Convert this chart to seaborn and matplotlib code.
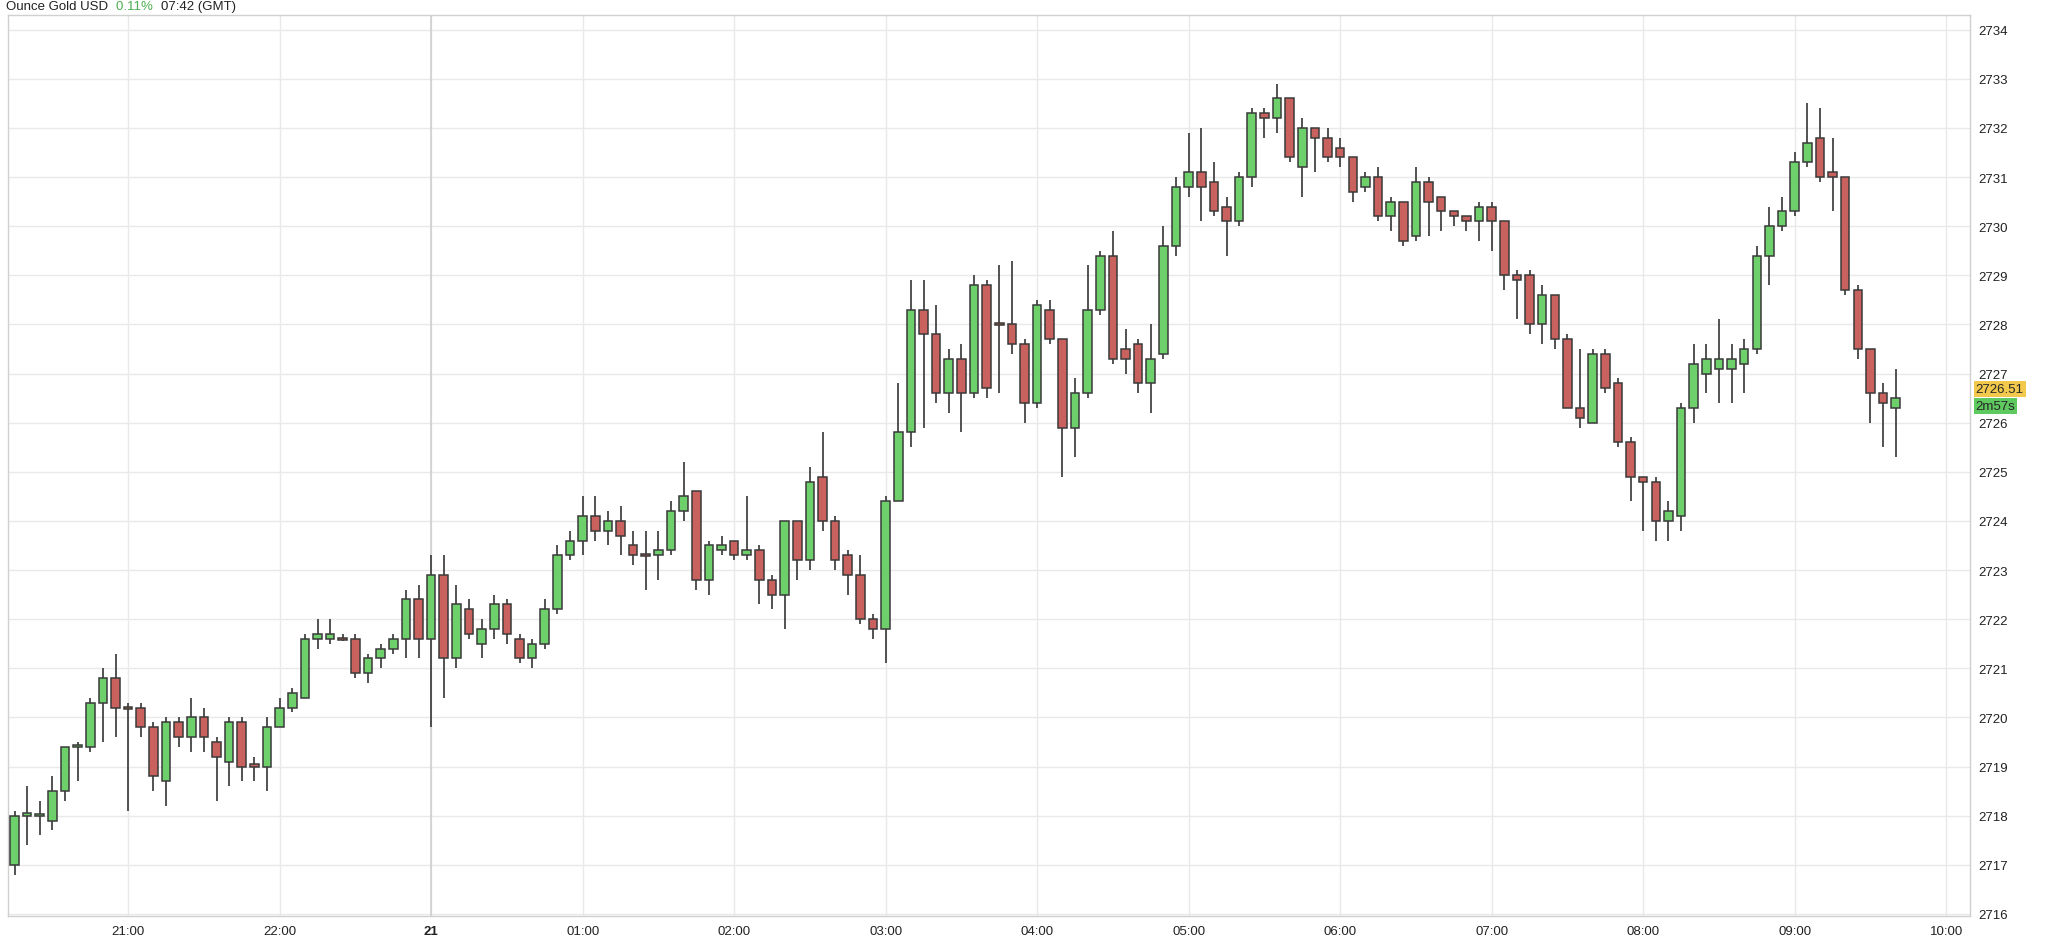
import matplotlib
matplotlib.use("Agg")
from matplotlib import pyplot as plt
import numpy as np
import seaborn as sns

sns.set_theme(style='white')
plt.rcParams['font.family'] = ['Liberation Sans', 'DejaVu Sans']

# 5 minute candles, 20:15 -> 09:40 GMT (22:00-23:00 break)
opens = [2717.0, 2718.0, 2718.0, 2717.9, 2718.5, 2719.4, 2719.4, 2720.3, 2720.8, 2720.2,
         2720.2, 2719.8, 2718.7, 2719.9, 2719.6, 2720.0, 2719.5, 2719.1, 2719.9, 2719.05,
         2719.0, 2719.8, 2720.2, 2720.4, 2721.6, 2721.6, 2721.6, 2721.6, 2720.9, 2721.2,
         2721.4, 2721.6, 2722.4, 2721.6, 2722.9, 2721.2, 2722.2, 2721.5, 2721.8, 2722.3,
         2721.6, 2721.2, 2721.5, 2722.2, 2723.3, 2723.6, 2724.1, 2723.8, 2724.0, 2723.5,
         2723.3, 2723.3, 2723.4, 2724.2, 2724.6, 2722.8, 2723.4, 2723.6, 2723.3, 2723.4,
         2722.8, 2722.5, 2724.0, 2723.2, 2724.9, 2724.0, 2723.3, 2722.9, 2722.0, 2721.8,
         2724.4, 2725.8, 2728.3, 2727.8, 2726.6, 2727.3, 2726.6, 2728.8, 2728.0, 2728.0,
         2727.6, 2726.4, 2728.3, 2727.7, 2725.9, 2726.6, 2728.3, 2729.4, 2727.5, 2727.6,
         2726.8, 2727.4, 2729.6, 2730.8, 2731.1, 2730.9, 2730.4, 2730.1, 2731.0, 2732.3,
         2732.2, 2732.6, 2731.2, 2732.0, 2731.8, 2731.6, 2731.4, 2730.8, 2731.0, 2730.2,
         2730.5, 2729.8, 2730.9, 2730.6, 2730.3, 2730.2, 2730.1, 2730.4, 2730.1, 2729.0,
         2729.0, 2728.0, 2728.6, 2727.7, 2726.3, 2726.0, 2727.4, 2726.8, 2725.6, 2724.9,
         2724.8, 2724.0, 2724.1, 2726.3, 2727.0, 2727.1, 2727.1, 2727.2, 2727.5, 2729.4,
         2730.0, 2730.3, 2731.3, 2731.8, 2731.1, 2731.0, 2728.7, 2727.5, 2726.6, 2726.3]
closes = [2718.0, 2718.05, 2718.02, 2718.5, 2719.4, 2719.42, 2720.3, 2720.8, 2720.2, 2720.18,
          2719.8, 2718.8, 2719.9, 2719.6, 2720.0, 2719.6, 2719.2, 2719.9, 2719.0, 2719.0,
          2719.8, 2720.2, 2720.5, 2721.6, 2721.7, 2721.7, 2721.58, 2720.9, 2721.2, 2721.4,
          2721.6, 2722.4, 2721.6, 2722.9, 2721.2, 2722.3, 2721.7, 2721.8, 2722.3, 2721.7,
          2721.2, 2721.5, 2722.2, 2723.3, 2723.6, 2724.1, 2723.8, 2724.0, 2723.7, 2723.3,
          2723.28, 2723.4, 2724.2, 2724.5, 2722.8, 2723.5, 2723.5, 2723.3, 2723.4, 2722.8,
          2722.5, 2724.0, 2723.2, 2724.8, 2724.0, 2723.2, 2722.9, 2722.0, 2721.8, 2724.4,
          2725.8, 2728.3, 2727.8, 2726.6, 2727.3, 2726.6, 2728.8, 2726.7, 2727.98, 2727.6,
          2726.4, 2728.4, 2727.7, 2725.9, 2726.6, 2728.3, 2729.4, 2727.3, 2727.3, 2726.8,
          2727.3, 2729.6, 2730.8, 2731.1, 2730.8, 2730.3, 2730.1, 2731.0, 2732.3, 2732.2,
          2732.6, 2731.4, 2732.0, 2731.8, 2731.4, 2731.4, 2730.7, 2731.0, 2730.2, 2730.5,
          2729.7, 2730.9, 2730.5, 2730.3, 2730.2, 2730.1, 2730.4, 2730.1, 2729.0, 2728.9,
          2728.0, 2728.6, 2727.7, 2726.3, 2726.1, 2727.4, 2726.7, 2725.6, 2724.9, 2724.8,
          2724.0, 2724.2, 2726.3, 2727.2, 2727.3, 2727.3, 2727.3, 2727.5, 2729.4, 2730.0,
          2730.3, 2731.3, 2731.7, 2731.0, 2731.0, 2728.7, 2727.5, 2726.6, 2726.4, 2726.51]
highs = [2718.1, 2718.6, 2718.3, 2718.8, 2719.4, 2719.5, 2720.4, 2721.0, 2721.3, 2720.3,
         2720.3, 2719.9, 2720.0, 2720.0, 2720.4, 2720.2, 2719.6, 2720.0, 2720.0, 2719.2,
         2720.0, 2720.4, 2720.6, 2721.7, 2722.0, 2722.0, 2721.7, 2721.7, 2721.3, 2721.5,
         2721.7, 2722.6, 2722.7, 2723.3, 2723.3, 2722.7, 2722.4, 2722.0, 2722.5, 2722.4,
         2721.7, 2721.6, 2722.4, 2723.5, 2723.8, 2724.5, 2724.5, 2724.2, 2724.3, 2723.8,
         2723.8, 2723.8, 2724.4, 2725.2, 2724.6, 2723.6, 2723.7, 2723.6, 2724.5, 2723.5,
         2722.9, 2724.0, 2724.0, 2725.1, 2725.8, 2724.1, 2723.4, 2723.3, 2722.1, 2724.5,
         2726.8, 2728.9, 2728.9, 2728.4, 2727.5, 2727.6, 2729.0, 2728.9, 2729.2, 2729.3,
         2727.7, 2728.5, 2728.5, 2727.7, 2726.9, 2729.2, 2729.5, 2729.9, 2727.9, 2727.7,
         2728.0, 2730.0, 2731.0, 2731.9, 2732.0, 2731.3, 2730.6, 2731.1, 2732.4, 2732.4,
         2732.9, 2732.6, 2732.2, 2732.0, 2732.0, 2731.8, 2731.4, 2731.1, 2731.2, 2730.6,
         2730.5, 2731.2, 2731.0, 2730.6, 2730.3, 2730.2, 2730.5, 2730.5, 2730.1, 2729.1,
         2729.1, 2728.8, 2728.6, 2727.8, 2727.5, 2727.5, 2727.5, 2726.9, 2725.7, 2724.9,
         2724.9, 2724.4, 2726.4, 2727.6, 2727.6, 2728.1, 2727.6, 2727.7, 2729.6, 2730.4,
         2730.6, 2731.5, 2732.5, 2732.4, 2731.8, 2731.0, 2728.8, 2727.5, 2726.8, 2727.1]
lows = [2716.8, 2717.4, 2717.6, 2717.7, 2718.3, 2718.7, 2719.3, 2719.5, 2719.6, 2718.1,
        2719.6, 2718.5, 2718.2, 2719.4, 2719.3, 2719.3, 2718.3, 2718.6, 2718.7, 2718.7,
        2718.5, 2719.8, 2720.1, 2720.4, 2721.4, 2721.5, 2721.55, 2720.8, 2720.7, 2721.0,
        2721.3, 2721.2, 2721.2, 2719.8, 2720.4, 2721.0, 2721.6, 2721.2, 2721.6, 2721.5,
        2721.1, 2721.0, 2721.4, 2722.1, 2723.2, 2723.3, 2723.6, 2723.5, 2723.3, 2723.1,
        2722.6, 2722.8, 2723.3, 2724.0, 2722.6, 2722.5, 2723.3, 2723.2, 2723.2, 2722.3,
        2722.2, 2721.8, 2722.8, 2723.0, 2723.8, 2723.0, 2722.5, 2721.9, 2721.6, 2721.1,
        2724.4, 2725.5, 2725.9, 2726.4, 2726.2, 2725.8, 2726.5, 2726.5, 2726.6, 2727.4,
        2726.0, 2726.3, 2727.6, 2724.9, 2725.3, 2726.5, 2728.2, 2727.2, 2727.0, 2726.6,
        2726.2, 2727.3, 2729.4, 2730.6, 2730.1, 2730.2, 2729.4, 2730.0, 2730.8, 2731.8,
        2731.9, 2731.3, 2730.6, 2731.1, 2731.3, 2731.2, 2730.5, 2730.7, 2730.1, 2729.9,
        2729.6, 2729.7, 2729.8, 2729.9, 2730.0, 2729.9, 2729.7, 2729.5, 2728.7, 2728.1,
        2727.8, 2727.6, 2727.5, 2726.3, 2725.9, 2726.0, 2726.6, 2725.5, 2724.4, 2723.8,
        2723.6, 2723.6, 2723.8, 2726.0, 2726.6, 2726.4, 2726.4, 2726.6, 2727.4, 2728.8,
        2729.9, 2730.2, 2731.2, 2730.9, 2730.3, 2728.6, 2727.3, 2726.0, 2725.5, 2725.3]

hour_labels = ['21:00', '22:00', '21', '01:00', '02:00', '03:00', '04:00',
               '05:00', '06:00', '07:00', '08:00', '09:00', '10:00']
hour_index = [9, 21, 33, 45, 57, 69, 81, 93, 105, 117, 129, 141, 153]
last_price = 2726.51

green = '#6dd06a'
red = '#c9625f'
edge = '#3a3a3a'

fig = plt.figure(figsize=(20.48, 9.37), dpi=100)
ax = fig.add_axes([0.004, 0.021, 0.958, 0.962])

o = np.array(opens)
c = np.array(closes)
h = np.array(highs)
l = np.array(lows)
x = np.arange(len(o))
up = c >= o
cols = np.where(up, green, red)
bottoms = np.minimum(o, c)
heights = np.maximum(np.abs(c - o), 0.04)

ax.vlines(x, l, h, color='#444444', linewidth=1.3, zorder=2)
ax.bar(x, heights, bottom=bottoms, width=0.68, color=cols, edgecolor=edge,
       linewidth=1.1, zorder=3)

ax.set_xlim(-0.5, 154.9)
ax.set_ylim(2715.95, 2734.3)
ax.set_xticks(hour_index)
ax.set_xticklabels(hour_labels)
for t in ax.get_xticklabels():
    if t.get_text() == '21':
        t.set_fontweight('bold')
yt = np.arange(2716, 2735)
ax.set_yticks(yt)
ax.set_yticklabels([str(v) for v in yt])
for t, v in zip(ax.get_yticklabels(), yt):
    if v % 5 == 0:
        t.set_fontweight('bold')
ax.yaxis.tick_right()
ax.tick_params(axis='both', labelsize=9.5, colors='#222222', length=0, pad=6)
ax.grid(True, color='#e9e9e9', linewidth=1.0, zorder=0)
ax.axvline(33, color='#cfcfcf', linewidth=1.2, zorder=1)
for s in ax.spines.values():
    s.set_color('#d0d0d0')
    s.set_linewidth(1.0)

# price tags
ax.annotate(f'{last_price:.2f}', xy=(1.0, last_price), xycoords=('axes fraction', 'data'),
            xytext=(4, 6), textcoords='offset points', fontsize=9.5, va='center', ha='left',
            bbox=dict(boxstyle='square,pad=0.15', fc='#f2c94c', ec='none'))
ax.annotate('2m57s', xy=(1.0, last_price), xycoords=('axes fraction', 'data'),
            xytext=(4, -6), textcoords='offset points', fontsize=9.5, va='center', ha='left',
            bbox=dict(boxstyle='square,pad=0.15', fc='#5ec95e', ec='none'))

# title pieces placed one after another
renderer = fig.canvas.get_renderer()
xpos = 0.003
for txt, col in [('Ounce Gold USD ', '#222222'), ('0.11% ', '#4caf50'), ('07:42 (GMT)', '#222222')]:
    t = fig.text(xpos, 0.993, txt, fontsize=9.5, va='center', ha='left', color=col)
    bb = t.get_window_extent(renderer=renderer)
    xpos += bb.width / fig.bbox.width + 0.002

fig.savefig('out.png', dpi=100)
